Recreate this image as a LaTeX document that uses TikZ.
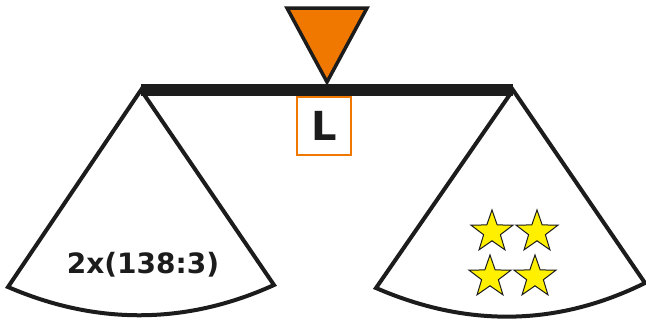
\documentclass[tikz,border=0pt]{standalone}
\usepackage{fontspec}
\setmainfont{DejaVu Sans}
\usetikzlibrary{shapes.geometric,positioning}
\definecolor{pivotorange}{HTML}{F07800}
\definecolor{inkblack}{HTML}{1C1C1C}
\definecolor{staryellow}{HTML}{FFF000}

\begin{document}
\begin{tikzpicture}[x=1pt, y=-1pt, line join=miter]
    \useasboundingbox (0,0) rectangle (646,322);
    \tikzset{
      panline/.style={draw=inkblack, line width=4pt, fill=white},
      starmark/.style={star, star points=5, star point ratio=2.5, draw=inkblack, fill=staryellow, line width=1pt, minimum size=44pt, inner sep=0pt}
    }

    % Beam ends
    \coordinate (beamL) at (141,90);
    \coordinate (beamR) at (513,90);

    % Left pan
    \draw[panline] (beamL) -- (8,287) .. controls (96,325) and (186,325) .. (274,285) -- cycle;
    \node[font=\bfseries\fontsize{28}{28}\selectfont, text=inkblack] (lefttext) at (143,265) {2x(138:3)};

    % Right pan
    \draw[panline] (beamR) -- (376,288) .. controls (466,327) and (556,327) .. (645,283) -- cycle;
    \foreach \sx/\sy [count=\i] in {492/232, 537/232, 490/277, 535/277}
      \node[starmark] (star\i) at (\sx,\sy) {};

    % Beam
    \draw[inkblack, line width=12pt] (beamL) -- (beamR);

    % Pivot
    \draw[fill=pivotorange, draw=inkblack, line width=3.5pt] (287,8) -- (367,8) -- (327,82) -- cycle;
    \node[draw=pivotorange, line width=1.5pt, minimum width=54pt, minimum height=58pt, font=\bfseries\fontsize{40}{40}\selectfont, text=inkblack] (lbox) at (324,126) {L};
  \end{tikzpicture}
\end{document}
